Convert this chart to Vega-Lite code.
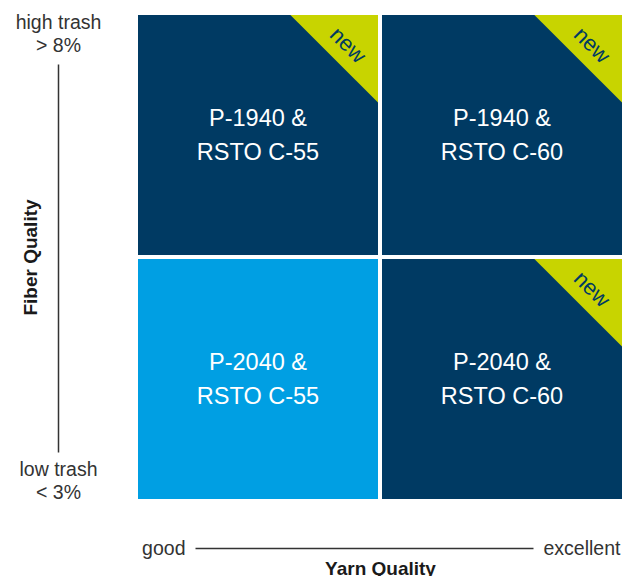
{
  "$schema": "https://vega.github.io/schema/vega-lite/v6.json",
  "width": 484,
  "height": 484,
  "autosize": {"type": "none"},
  "padding": {"left": 138, "top": 15, "right": 0, "bottom": 77},
  "background": "white",
  "config": {"view": {"stroke": null}, "font": "Liberation Sans"},
  "datasets": {
    "cells": [
      {"yarn": "good", "fiber": "high", "label": "P-1940 &\nRSTO C-55", "status": "new"},
      {"yarn": "excellent", "fiber": "high", "label": "P-1940 &\nRSTO C-60", "status": "new"},
      {"yarn": "good", "fiber": "low", "label": "P-2040 &\nRSTO C-55", "status": "existing"},
      {"yarn": "excellent", "fiber": "low", "label": "P-2040 &\nRSTO C-60", "status": "new"}
    ],
    "ends": [
      {"yarn": "good", "fiber": "high"},
      {"yarn": "excellent", "fiber": "low"}
    ]
  },
  "layer": [
    {
      "data": {"name": "cells"},
      "encoding": {
        "x": {
          "field": "yarn", "type": "nominal",
          "scale": {"type": "band", "domain": ["good", "excellent"], "paddingInner": 0.0164, "paddingOuter": 0},
          "axis": {"orient": "bottom", "labels": false, "ticks": false, "domain": false, "grid": false,
            "title": "Yarn Quality", "titleFontSize": 19, "titleFontWeight": "bold", "titleColor": "#1a1a1a",
            "titleBaseline": "alphabetic", "titleAlign": "center", "titleY": 75, "titleX": 242}
        },
        "y": {
          "field": "fiber", "type": "nominal",
          "scale": {"type": "band", "domain": ["high", "low"], "paddingInner": 0.0164, "paddingOuter": 0},
          "axis": {"orient": "left", "labels": false, "ticks": false, "domain": false, "grid": false,
            "title": "Fiber Quality", "titleFontSize": 19, "titleFontWeight": "bold", "titleColor": "#1a1a1a",
            "titleAngle": 270, "titleAlign": "center", "titleBaseline": "alphabetic", "titleX": -102, "titleY": 242}
        }
      },
      "layer": [
        {
          "mark": {"type": "rect"},
          "encoding": {
            "color": {"field": "status", "type": "nominal",
              "scale": {"domain": ["new", "existing"], "range": ["#003a63", "#009fe3"]}, "legend": null}
          }
        },
        {
          "transform": [{"filter": "datum.status === 'new'"}],
          "mark": {"type": "point", "shape": "M0.27,-1L1,-1L1,-0.27Z", "size": 57600, "filled": true, "opacity": 1, "color": "#c8d400", "strokeWidth": 0}
        },
        {
          "transform": [{"filter": "datum.status === 'new'"}],
          "mark": {"type": "text", "text": "new", "angle": 45, "dy": -127, "fontSize": 22, "color": "#003a63", "align": "center", "baseline": "middle"}
        },
        {
          "mark": {"type": "text", "lineBreak": "\n", "fontSize": 23.5, "lineHeight": 34, "dy": -16, "color": "white", "align": "center", "baseline": "middle"},
          "encoding": {"text": {"field": "label"}}
        }
      ]
    },
    {
      "data": {"name": "ends"},
      "mark": {"type": "point", "opacity": 0},
      "encoding": {
        "x": {
          "field": "yarn", "type": "nominal",
          "scale": {"type": "point", "domain": ["good", "excellent"], "range": [57, 395], "padding": 0},
          "axis": {"orient": "bottom", "offset": 49, "title": null, "domain": true, "domainColor": "#333333", "domainWidth": 1.5,
            "ticks": false, "tickSize": 0, "labelPadding": 0, "labelFontSize": 19.5, "labelColor": "#333333",
            "labelAngle": 0, "labelBaseline": "middle",
            "labelAlign": {"condition": {"test": "datum.value === 'good'", "value": "right"}, "value": "left"},
            "labelOffset": {"condition": {"test": "datum.value === 'good'", "value": -10}, "value": 10},
            "labelOverlap": false, "labelBound": false, "labelFlush": false, "grid": false}
        },
        "y": {
          "field": "fiber", "type": "nominal",
          "scale": {"type": "point", "domain": ["high", "low"], "range": [49, 437], "padding": 0},
          "axis": {"orient": "left", "offset": 80, "title": null, "domain": true, "domainColor": "#333333", "domainWidth": 1.5,
            "ticks": false, "tickSize": 0, "labelPadding": 0, "labelFontSize": 19.5, "labelColor": "#333333",
            "labelAngle": 0, "labelAlign": "center", "labelBaseline": "alphabetic", "labelLineHeight": 23,
            "labelExpr": "datum.value === 'high' ? ['high trash', '> 8%'] : ['low trash', '< 3%']",
            "labelOffset": {"condition": {"test": "datum.value === 'high'", "value": -36}, "value": 23},
            "labelOverlap": false, "labelBound": false, "labelFlush": false, "grid": false}
        }
      }
    }
  ],
  "resolve": {"scale": {"x": "independent", "y": "independent"}}
}
